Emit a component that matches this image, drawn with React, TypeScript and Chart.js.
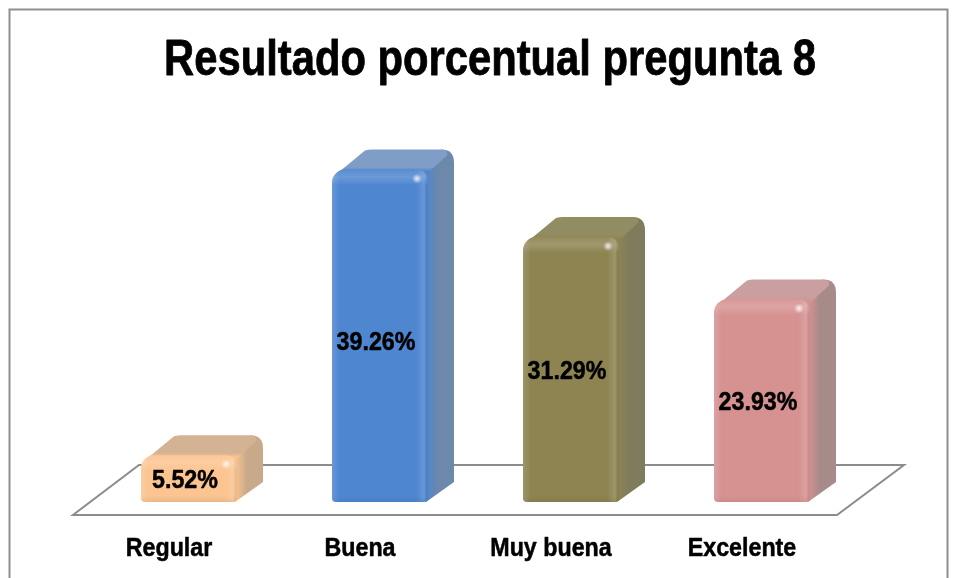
import { useEffect, useRef } from "react";
import { Chart, registerables } from "chart.js";

Chart.register(...registerables);

const titleText = "Resultado porcentual pregunta 8";
const categories = ["Regular", "Buena", "Muy buena", "Excelente"];
const values = [5.52, 39.26, 31.29, 23.93];
const frontColors = ["#FBC490", "#4F86D0", "#8E8452", "#D69291"];
const topColors = ["#D4B294", "#7F9DC6", "#928C62", "#C99F9F"];
const sideColors = ["#C8A98A", "#6C88AB", "#7F7C5E", "#A78A8A"];
const labelNudgeY = [2, 7, 3, 2];

const FONT = "'Liberation Sans', Arial, sans-serif";
const DX = 26;
const DY = 20;
const R = 13;

function roundRectPath(ctx: CanvasRenderingContext2D, x0: number, y0: number, x1: number, y1: number, r: number) {
  ctx.beginPath();
  ctx.moveTo(x0 + r, y0);
  ctx.lineTo(x1 - r, y0);
  ctx.quadraticCurveTo(x1, y0, x1, y0 + r);
  ctx.lineTo(x1, y1 - 4);
  ctx.quadraticCurveTo(x1, y1, x1 - 4, y1);
  ctx.lineTo(x0 + 4, y1);
  ctx.quadraticCurveTo(x0, y1, x0, y1 - 4);
  ctx.lineTo(x0, y0 + r);
  ctx.quadraticCurveTo(x0, y0, x0 + r, y0);
  ctx.closePath();
}

const scene = {
  id: "scene",
  beforeInit(chart: any) {
    // the reference's text is horizontally condensed and slightly heavy
    const ctx = chart.ctx;
    const fill = ctx.fillText.bind(ctx);
    const stroke = ctx.strokeText.bind(ctx);
    ctx.fillText = (text: string, x: number, y: number) => {
      const isTitle = ctx.font.includes("50px");
      const k = isTitle ? 0.835 : 0.93;
      ctx.save();
      ctx.translate(isTitle ? x + 14.5 : x, y);
      ctx.scale(k, 1);
      ctx.strokeStyle = ctx.fillStyle;
      ctx.lineWidth = isTitle ? 0.8 : 0.5;
      ctx.lineJoin = "round";
      stroke(text, 0, 0);
      fill(text, 0, 0);
      ctx.restore();
    };
  },
  beforeDraw(chart: any) {
    const { ctx } = chart;
    ctx.save();
    ctx.fillStyle = "#ffffff";
    ctx.fillRect(0, 0, chart.width, chart.height);
    ctx.strokeStyle = "#8f8f8f";
    ctx.lineWidth = 2;
    ctx.strokeRect(9.5, 9.5, 938, 640);
    ctx.restore();
  },
  beforeDatasetsDraw(chart: any) {
    const { ctx, chartArea } = chart;
    const meta = chart.getDatasetMeta(0);
    const bottom = chartArea.bottom;
    ctx.save();
    ctx.strokeStyle = "#8c8c8c";
    ctx.lineWidth = 2;
    ctx.lineJoin = "miter";
    ctx.beginPath();
    ctx.moveTo(chartArea.left - 20.5, bottom + 13);
    ctx.lineTo(chartArea.right - 20.5, bottom + 13);
    ctx.lineTo(chartArea.right + 46.5, bottom - 37);
    ctx.lineTo(chartArea.left + 45.5, bottom - 37);
    ctx.closePath();
    ctx.stroke();

    meta.data.forEach((bar: any, i: number) => {
      const { x, y, base, width } = bar.getProps(["x", "y", "base", "width"], true);
      const x0 = x - width / 2;
      const x1 = x + width / 2;
      // side face, blending from the front colour at the shared edge
      const sg = ctx.createLinearGradient(x1 - 2, 0, x1 + 10, 0);
      sg.addColorStop(0, frontColors[i]);
      sg.addColorStop(1, sideColors[i]);
      ctx.fillStyle = sg;
      ctx.beginPath();
      ctx.moveTo(x1 - 8, y + 2);
      ctx.lineTo(x1 + DX - R, y - DY);
      ctx.quadraticCurveTo(x1 + DX, y - DY, x1 + DX, y - DY + R);
      ctx.lineTo(x1 + DX, base - DY);
      ctx.lineTo(x1 - 2, base);
      ctx.closePath();
      ctx.fill();
      // top face
      const tg = ctx.createLinearGradient(0, y - DY, 0, y + 2);
      tg.addColorStop(0, topColors[i]);
      tg.addColorStop(0.8, topColors[i]);
      tg.addColorStop(1, frontColors[i]);
      ctx.fillStyle = tg;
      ctx.beginPath();
      ctx.moveTo(x0 + 3, y + 8);
      ctx.quadraticCurveTo(x0 + 5, y + 2, x0 + 10, y);
      ctx.lineTo(x0 + DX + 7, y - DY + 1);
      ctx.quadraticCurveTo(x0 + DX + 10, y - DY, x0 + DX + 14, y - DY);
      ctx.lineTo(x1 + DX - R, y - DY);
      ctx.quadraticCurveTo(x1 + DX - 5, y - DY, x1 + DX - 7, y - DY + 6);
      ctx.lineTo(x1 - 4, y + 7);
      ctx.closePath();
      ctx.fill();
    });
    ctx.restore();
  },
  afterDatasetsDraw(chart: any) {
    const { ctx } = chart;
    const meta = chart.getDatasetMeta(0);
    meta.data.forEach((bar: any, i: number) => {
      const { x, y, base, width } = bar.getProps(["x", "y", "base", "width"], true);
      const x0 = x - width / 2;
      const x1 = x + width / 2;
      ctx.save();
      roundRectPath(ctx, x0, y, x1, base, R);
      ctx.clip();
      const h = ctx.createLinearGradient(x0, 0, x1, 0);
      h.addColorStop(0, "rgba(255,255,255,0.14)");
      h.addColorStop(0.08, "rgba(255,255,255,0)");
      h.addColorStop(0.88, "rgba(255,255,255,0)");
      h.addColorStop(0.96, "rgba(255,255,255,0.14)");
      h.addColorStop(1, "rgba(0,0,0,0.05)");
      ctx.fillStyle = h;
      ctx.fillRect(x0, y, width, base - y);
      const v = ctx.createLinearGradient(0, y, 0, y + 16);
      v.addColorStop(0, "rgba(255,255,255,0.06)");
      v.addColorStop(0.45, "rgba(255,255,255,0.16)");
      v.addColorStop(1, "rgba(255,255,255,0)");
      ctx.fillStyle = v;
      ctx.fillRect(x0, y, width, 16);
      const b = ctx.createLinearGradient(0, base - 6, 0, base);
      b.addColorStop(0, "rgba(0,0,0,0)");
      b.addColorStop(1, "rgba(0,0,0,0.06)");
      ctx.fillStyle = b;
      ctx.fillRect(x0, base - 6, width, 6);
      ctx.restore();

      // specular glint at the top right of the front face
      ctx.save();
      const g = ctx.createRadialGradient(x1 - 11, y + 9, 0, x1 - 11, y + 9, 5);
      g.addColorStop(0, "rgba(255,255,255,0.85)");
      g.addColorStop(1, "rgba(255,255,255,0)");
      ctx.fillStyle = g;
      ctx.fillRect(x1 - 16, y + 4, 10, 10);
      ctx.restore();

      ctx.save();
      ctx.fillStyle = "#000000";
      ctx.font = `bold 25px ${FONT}`;
      ctx.textAlign = "center";
      ctx.textBaseline = "middle";
      ctx.fillText(values[i].toFixed(2) + "%", x - 4, (y + base) / 2 + labelNudgeY[i]);
      ctx.restore();
    });
  },
};

export default function App() {
  const ref = useRef<HTMLCanvasElement>(null);
  useEffect(() => {
    document.body.style.margin = "0";
    const chart = new Chart(ref.current!, {
      type: "bar",
      plugins: [scene],
      data: {
        labels: categories,
        datasets: [
          {
            data: values,
            backgroundColor: frontColors,
            borderRadius: { topLeft: 13, topRight: 13, bottomLeft: 4, bottomRight: 4 },
            borderSkipped: false,
            barPercentage: 1,
            categoryPercentage: 0.5026,
          },
        ],
      },
      options: {
        responsive: false,
        animation: false,
        layout: { padding: { left: 93.5, right: 100.5, top: 0, bottom: 0 } },
        plugins: {
          legend: { display: false },
          tooltip: { enabled: false },
          title: {
            display: true,
            text: titleText,
            color: "#000000",
            font: { family: FONT, size: 50, weight: "bold", lineHeight: 1.2 },
            padding: { top: 31, bottom: 30 },
          },
        },
        scales: {
          x: {
            grid: { display: false, drawTicks: false },
            border: { display: false },
            afterFit: (s: any) => { s.height = 76; },
            ticks: {
              color: "#000000",
              font: { family: FONT, size: 25, weight: "bold" },
              padding: 32,
              labelOffset: -20,
              maxRotation: 0,
              autoSkip: false,
            },
          },
          y: { display: false, min: 0, max: 45 },
        },
      },
    });
    return () => chart.destroy();
  }, []);
  return <canvas ref={ref} width={958} height={578} style={{ display: "block" }} />;
}
